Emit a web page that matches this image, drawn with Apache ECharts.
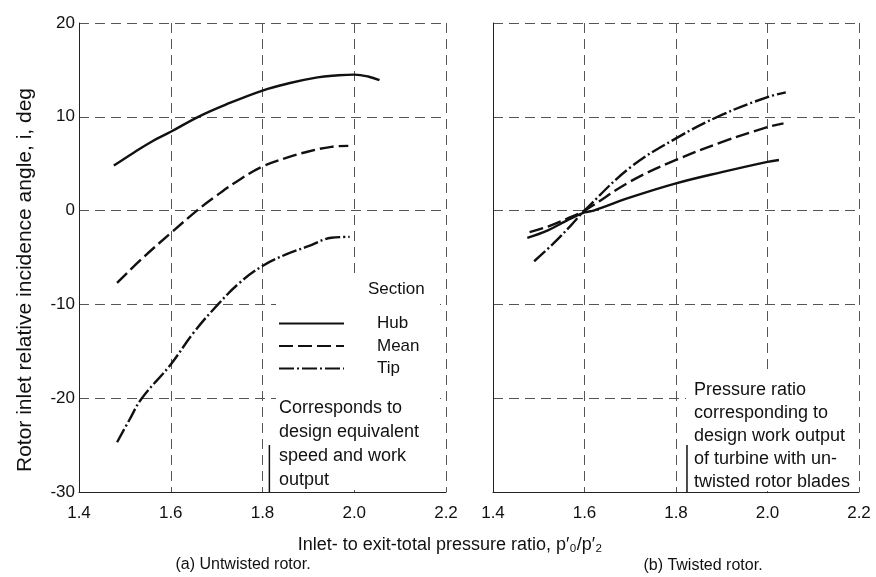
<!DOCTYPE html>
<html>
<head>
<meta charset="utf-8">
<script src="https://cdn.jsdelivr.net/npm/echarts@6/dist/echarts.min.js"></script>
<style>
  html, body { margin: 0; padding: 0; background: #fff; }
  #chart { width: 876px; height: 577px; }
</style>
</head>
<body>
<div id="chart"></div>
<script>
  // values
  const xTickLabels = ['1.4', '1.6', '1.8', '2.0', '2.2'];
  const sections = ['Hub', 'Mean', 'Tip'];

  // (a) untwisted rotor
  const hubUntwisted = [[1.476, 4.8], [1.52, 6.2], [1.56, 7.4], [1.6, 8.4], [1.66, 10.0], [1.72, 11.3], [1.8, 12.8],
    [1.86, 13.6], [1.92, 14.2], [1.96, 14.4], [2.0, 14.5], [2.03, 14.3], [2.055, 13.9]];
  const meanUntwisted = [[1.483, -7.7], [1.54, -5.0], [1.6, -2.4], [1.657, 0], [1.7, 1.6], [1.75, 3.3], [1.8, 4.7],
    [1.85, 5.6], [1.9, 6.3], [1.95, 6.8], [1.987, 6.9]];
  const tipUntwisted = [[1.483, -24.7], [1.51, -22.3], [1.537, -20.0], [1.6, -16.4], [1.65, -13.0], [1.703, -10.0],
    [1.75, -7.7], [1.8, -5.9], [1.85, -4.7], [1.9, -3.8], [1.95, -2.9], [1.99, -2.8]];

  // (b) twisted rotor
  const hubTwisted = [[1.475, -2.9], [1.52, -2.1], [1.56, -1.1], [1.6, -0.2], [1.62, 0], [1.7, 1.4], [1.8, 2.9],
    [1.9, 4.1], [2.0, 5.2], [2.025, 5.4]];
  const meanTwisted = [[1.48, -2.3], [1.52, -1.7], [1.56, -0.9], [1.6, 0], [1.7, 3.1], [1.8, 5.4], [1.9, 7.3],
    [2.0, 8.9], [2.035, 9.3]];
  const tipTwisted = [[1.49, -5.4], [1.53, -3.6], [1.57, -1.6], [1.6, 0], [1.7, 4.6], [1.8, 7.7], [1.9, 10.2],
    [2.0, 12.1], [2.04, 12.6]];

  // design pressure ratio markers
  const designRatioUntwisted = [[1.815, -25], [1.815, -30]];
  const designRatioTwisted = [[1.824, -25], [1.824, -30]];

  const font = "'Liberation Sans', Arial, sans-serif";
  const dashMean = [14, 5];
  const dashTip = [15, 3, 2, 3];

  let chart = echarts.init(document.getElementById('chart'));

  function xAxisFor(idx) {
    return {
      type: 'value', gridIndex: idx, min: 1.4, max: 2.2, interval: 0.2,
      axisLine: { show: true, onZero: false, lineStyle: { color: '#222', width: 1 } },
      axisTick: { show: false },
      splitLine: { show: true, lineStyle: { color: '#555', width: 1, type: [10, 6] } },
      axisLabel: {
        color: '#111', fontSize: 17, fontFamily: font, margin: 13,
        formatter: v => xTickLabels[Math.round((v - 1.4) / 0.2)]
      }
    };
  }
  function yAxisFor(idx, showLabels) {
    return {
      type: 'value', gridIndex: idx, min: -30, max: 20, interval: 10,
      axisLine: { show: true, onZero: false, lineStyle: { color: '#222', width: 1 } },
      axisTick: { show: false },
      splitLine: { show: true, lineStyle: { color: '#555', width: 1, type: [10, 6] } },
      axisLabel: { show: showLabels, color: '#111', fontSize: 17, fontFamily: font, margin: 4 }
    };
  }
  function curve(name, data, dash, idx) {
    return {
      name: name, type: 'line', xAxisIndex: idx, yAxisIndex: idx, data: data,
      smooth: 0.4, symbol: 'none', showSymbol: false, z: 3,
      itemStyle: { color: '#111' },
      lineStyle: { color: '#111', width: 2.4, type: dash }
    };
  }
  function marker(data, idx) {
    return {
      type: 'line', xAxisIndex: idx, yAxisIndex: idx, data: data, symbol: 'none', z: 3,
      lineStyle: { color: '#111', width: 1.5 }, silent: true
    };
  }

  let option = {
    backgroundColor: '#fff',
    animation: false,
    grid: [
      { left: 79, top: 23, width: 367, height: 469 },
      { left: 493, top: 23, width: 366, height: 469 }
    ],
    xAxis: [xAxisFor(0), xAxisFor(1)],
    yAxis: [yAxisFor(0, true), yAxisFor(1, false)],
    legend: {
      data: sections,
      orient: 'vertical',
      left: 278, top: 315,
      itemWidth: 65, itemHeight: 14, itemGap: 5.5,
      padding: 0,
      itemStyle: { opacity: 0 },
      textStyle: { fontSize: 17, fontFamily: font, color: '#111', padding: [0, 0, 0, 28] },
      z: 4
    },
    graphic: [
      { type: 'rect', z: 1, shape: { x: 276, y: 277, width: 164, height: 213 }, style: { fill: '#fff' } },
      { type: 'rect', z: 1, shape: { x: 686, y: 375, width: 170, height: 116 }, style: { fill: '#fff' } },
      { type: 'text', z: 5, left: 368, top: 281, style: { text: 'Section', font: '17px ' + font, fill: '#111' } },
      { type: 'text', z: 5, left: 279, top: 396, style: { text: 'Corresponds to\ndesign equivalent\nspeed and work\noutput', font: '18px ' + font, fill: '#111', lineHeight: 24 } },
      { type: 'text', z: 5, left: 694, top: 379, style: { text: 'Pressure ratio\ncorresponding to\ndesign work output\nof turbine with un-\ntwisted rotor blades', font: '18px ' + font, fill: '#111', lineHeight: 23 } },
      { type: 'text', z: 5, x: 25, y: 280, rotation: Math.PI / 2, style: { text: 'Rotor inlet relative incidence angle, i, deg', font: '21px ' + font, fill: '#111', align: 'center', verticalAlign: 'middle' } },
      { type: 'text', z: 5, x: 450, y: 545, style: { text: "Inlet- to exit-total pressure ratio, p\u2032\u2080/p\u2032\u2082", font: '18px ' + font, fill: '#111', align: 'center', verticalAlign: 'middle' } },
      { type: 'text', z: 5, x: 243, y: 565, style: { text: '(a) Untwisted rotor.', font: '16px ' + font, fill: '#111', align: 'center', verticalAlign: 'middle' } },
      { type: 'text', z: 5, x: 703, y: 566, style: { text: '(b) Twisted rotor.', font: '16px ' + font, fill: '#111', align: 'center', verticalAlign: 'middle' } }
    ],
    series: [
      curve('Hub', hubUntwisted, 'solid', 0),
      curve('Mean', meanUntwisted, dashMean, 0),
      curve('Tip', tipUntwisted, dashTip, 0),
      curve('Hub', hubTwisted, 'solid', 1),
      curve('Mean', meanTwisted, dashMean, 1),
      curve('Tip', tipTwisted, dashTip, 1),
      marker(designRatioUntwisted, 0),
      marker(designRatioTwisted, 1)
    ]
  };
  chart.setOption(option, true);
</script>
</body>
</html>
